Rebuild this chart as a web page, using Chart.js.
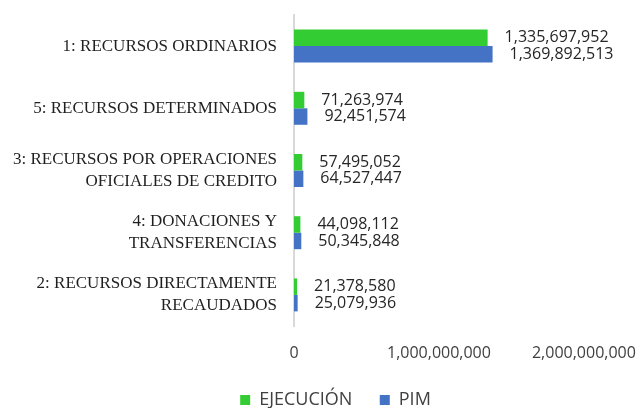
<!DOCTYPE html>
<html>
<head>
<meta charset="utf-8">
<script src="https://cdn.jsdelivr.net/npm/chart.js@4.4.1/dist/chart.umd.min.js"></script>
<style>
  html, body { margin: 0; padding: 0; background: #ffffff; }
  #wrap { width: 639px; height: 408px; }
</style>
</head>
<body>
<div id="wrap"><canvas id="fuenteChart" width="639" height="408"></canvas></div>
<script>
// Rubros de financiamiento (de arriba hacia abajo)
const categories = [
    '1: RECURSOS ORDINARIOS',
    '5: RECURSOS DETERMINADOS',
    ['3: RECURSOS POR OPERACIONES', 'OFICIALES DE CREDITO'],
    ['4: DONACIONES Y', 'TRANSFERENCIAS'],
    ['2: RECURSOS DIRECTAMENTE', 'RECAUDADOS']
];

const ejecucion = [1335697952, 71263974, 57495052, 44098112, 21378580];
const pim = [1369892513, 92451574, 64527447, 50345848, 25079936];

const seriesNames = ['EJECUCIÓN', 'PIM'];
const xTicks = [0, 1000000000, 2000000000];
// el eje llega un poco más allá de la última marca
const xMax = 2380000000;

const colors = ['#33CC33', '#4472C4'];

const fmt = v => v.toLocaleString('en-US');

// Dibuja el monto al lado derecho de cada barra
const valueLabels = {
    id: 'valueLabels',
    afterDatasetsDraw(chart) {
        const ctx = chart.ctx;
        ctx.save();
        ctx.font = '16px "Open Sans"';
        ctx.fillStyle = '#262626';
        ctx.textAlign = 'left';
        ctx.textBaseline = 'middle';
        chart.data.datasets.forEach((ds, i) => {
            const meta = chart.getDatasetMeta(i);
            meta.data.forEach((bar, j) => {
                ctx.fillText(fmt(ds.data[j]), bar.x + 17, bar.y);
            });
        });
        ctx.restore();
    }
};

// La leyenda va algo corrida a la derecha y pegada al borde inferior
const legendShift = {
    id: 'legendShift',
    afterLayout(chart) {
        chart.legend.left += 32;
        chart.legend.top += 11;
        chart.legend.bottom += 11;
    }
};

new Chart(document.getElementById('fuenteChart').getContext('2d'), {
    type: 'bar',
    data: {
        labels: categories,
        datasets: [
            { label: seriesNames[0], data: ejecucion, backgroundColor: colors[0] },
            { label: seriesNames[1], data: pim, backgroundColor: colors[1] }
        ]
    },
    options: {
        indexAxis: 'y',
        responsive: false,
        animation: false,
        datasets: {
            bar: { categoryPercentage: 0.53, barPercentage: 1.0 }
        },
        layout: { padding: { top: 15, right: 0, bottom: 0, left: 0 } },
        plugins: {
            legend: {
                position: 'bottom',
                labels: {
                    boxWidth: 10,
                    boxHeight: 10,
                    padding: 4,
                    color: '#404040',
                    font: { family: '"Open Sans"', size: 18 },
                    // espacio extra entre las dos entradas
                    generateLabels: chart => Chart.defaults.plugins.legend.labels
                        .generateLabels(chart)
                        .map((item, i, all) => i < all.length - 1 ? { ...item, text: item.text + '     ' } : item)
                }
            },
            tooltip: { enabled: false }
        },
        scales: {
            x: {
                min: 0,
                max: xMax,
                afterBuildTicks: scale => {
                    scale.ticks = xTicks.map(v => ({ value: v }));
                },
                afterFit: scale => {
                    scale.paddingLeft = 0;
                    scale.paddingRight = 0;
                    scale.height = 50;
                },
                grid: { display: false },
                border: { display: false },
                ticks: {
                    padding: 10,
                    color: '#404040',
                    font: { family: '"Open Sans"', size: 16 },
                    callback: v => fmt(v)
                }
            },
            y: {
                afterFit: scale => {
                    scale.width = 294;
                    scale.paddingTop = 0;
                    scale.paddingBottom = 0;
                },
                grid: { drawOnChartArea: false, drawTicks: false },
                border: { color: '#d9d9d9', width: 2 },
                ticks: {
                    padding: 17,
                    color: '#1f1f1f',
                    font: { family: '"Liberation Serif"', size: 17, lineHeight: 1.3 }
                }
            }
        }
    },
    plugins: [valueLabels, legendShift]
});
</script>
</body>
</html>
